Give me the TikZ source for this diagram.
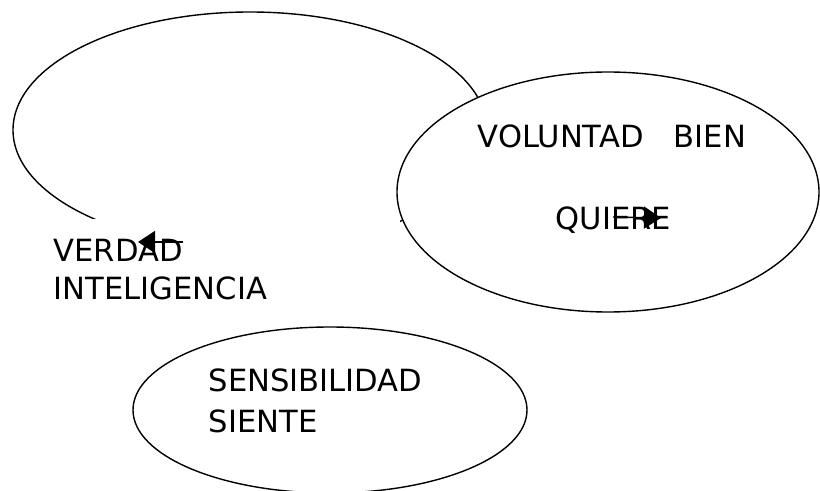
\documentclass[tikz,border=0pt]{standalone}
\usepackage{fontspec}
\setmainfont{DejaVu Sans}
\usepackage{tikz}
\usetikzlibrary{shapes.geometric}
\usetikzlibrary{arrows.meta}

\begin{document}
\begin{tikzpicture}[x=0.5pt, y=-0.5pt,
                line width=0.7pt,
                oval/.style n args={2}{ellipse, draw, fill=white,
                    inner sep=0pt,
                    minimum width=#1pt,
                    minimum height=#2pt},
                lbl/.style={anchor=base west, inner sep=0pt,
                    font=\fontsize{15.3}{18}\selectfont},
                tip/.style={-{Triangle[length=8.5pt, width=11pt]}}]
                \useasboundingbox (0, 0) rectangle (820, 491);
                % big open loop, its lower part is hidden by the text box
                \node[oval={237}{118}, fill=none](loop) at (250, 130) {};
                \fill[white] (50, 219) rectangle (400, 318);
                \node[lbl](verdad) at (53, 262) {VERDAD};
                \node[lbl](inteligencia) at (53, 300) {INTELIGENCIA};
                \coordinate (vfrom) at (183, 242);
                \coordinate (vto) at (138, 242);
                \draw[tip] (vfrom) -- (vto);
                % voluntad
                \node[oval={211}{120}](voluntad) at (608, 192) {};
                \node[lbl](bien) at (477, 148) {VOLUNTAD\hspace{15pt}BIEN};
                \node[lbl](quiere) at (555, 230) {QUIERE};
                \coordinate (qfrom) at (613, 217);
                \coordinate (qto) at (661, 218);
                \draw[tip] (qfrom) -- (qto);
                % sensibilidad
                \node[oval={197}{83}](sensib) at (330, 410) {};
                \node[lbl](sensibilidad) at (208, 392) {SENSIBILIDAD};
                \node[lbl](siente) at (208, 433) {SIENTE};
            \end{tikzpicture}
\end{document}
